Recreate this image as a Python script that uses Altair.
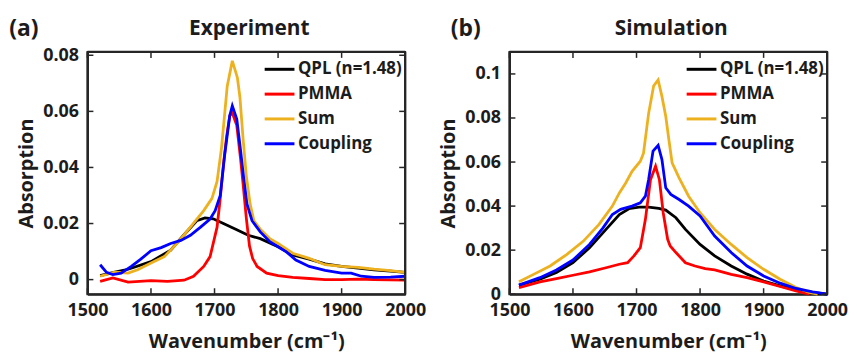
import altair as alt
import pandas as pd

FONT = "Open Sans"
TXT = "#1c1c1c"
FRAME = "#262626"
SERIES = ["QPL (n=1.48)", "PMMA", "Sum", "Coupling"]
COLORS = ["#000000", "#ff0000", "#edb120", "#0000ff"]
X_TICKS = [1500, 1600, 1700, 1800, 1900, 2000]
Y_TICKS_A = [0, 0.02, 0.04, 0.06, 0.08]
Y_TICKS_B = [0, 0.02, 0.04, 0.06, 0.08, 0.1]

# ---- (a) Experiment ----
QPL_A_X = [1520, 1543, 1564, 1600, 1631, 1652, 1672, 1685, 1698, 1714, 1735, 1753, 1772, 1800, 1823, 1849, 1874, 1900, 1926, 1951, 1977, 2000]
QPL_A_Y = [0.0014, 0.0027, 0.0037, 0.0064, 0.0105, 0.016, 0.021, 0.022, 0.0217, 0.020, 0.0178, 0.0158, 0.0146, 0.0117, 0.0088, 0.0073, 0.0056, 0.0047, 0.0041, 0.0035, 0.003, 0.0026]

PMMA_A_X = [1520, 1540, 1564, 1600, 1626, 1652, 1667, 1683, 1693, 1704, 1709, 1714, 1719, 1724, 1728, 1735, 1741, 1745, 1750, 1755, 1760, 1767, 1782, 1800, 1823, 1849, 1874, 1900, 1926, 1951, 2000]
PMMA_A_Y = [-0.0006, 0.0006, -0.0009, -0.0004, -0.0006, -0.0002, 0.0012, 0.0047, 0.0082, 0.0187, 0.029, 0.041, 0.051, 0.0585, 0.0594, 0.055, 0.043, 0.034, 0.022, 0.012, 0.0075, 0.0047, 0.0023, 0.0014, 0.0008, 0.0004, 0.0, 0.0, 0.0002, 0.0, -0.0002]

SUM_A_X = [1520, 1543, 1564, 1579, 1600, 1621, 1641, 1662, 1683, 1696, 1704, 1711, 1720, 1728, 1736, 1740, 1745, 1750, 1756, 1762, 1772, 1787, 1800, 1823, 1849, 1874, 1900, 1926, 1951, 1977, 2000]
SUM_A_Y = [0.0012, 0.0027, 0.0023, 0.0035, 0.0059, 0.0082, 0.0129, 0.0187, 0.0246, 0.029, 0.035, 0.047, 0.069, 0.078, 0.072, 0.065, 0.05, 0.037, 0.027, 0.021, 0.018, 0.0146, 0.0129, 0.0094, 0.0076, 0.0053, 0.0047, 0.0044, 0.0037, 0.0032, 0.0026]

COUP_A_X = [1520, 1530, 1540, 1553, 1569, 1584, 1600, 1616, 1631, 1647, 1662, 1678, 1693, 1701, 1709, 1716, 1724, 1728, 1735, 1741, 1746, 1751, 1759, 1772, 1787, 1800, 1813, 1828, 1849, 1874, 1900, 1915, 1931, 1951, 1977, 2000]
COUP_A_Y = [0.0053, 0.0026, 0.0018, 0.0023, 0.0047, 0.0073, 0.0103, 0.0114, 0.0129, 0.014, 0.0158, 0.0187, 0.0216, 0.0246, 0.030, 0.0445, 0.0585, 0.062, 0.0573, 0.046, 0.036, 0.027, 0.021, 0.017, 0.0135, 0.0117, 0.0099, 0.007, 0.0047, 0.0033, 0.0023, 0.0023, 0.0012, 0.0008, 0.0009, 0.0012]

# ---- (b) Simulation ----
QPL_B_X = [1515, 1548, 1574, 1600, 1626, 1652, 1673, 1688, 1704, 1719, 1735, 1746, 1762, 1777, 1800, 1823, 1849, 1874, 1900, 1926, 1951, 1977, 2000]
QPL_B_Y = [0.0041, 0.0068, 0.0098, 0.0143, 0.0211, 0.0294, 0.0362, 0.0388, 0.0395, 0.0395, 0.039, 0.0382, 0.0347, 0.0294, 0.0226, 0.0174, 0.0128, 0.0091, 0.006, 0.0038, 0.002, 0.0008, 0.0]

PMMA_B_X = [1515, 1548, 1574, 1600, 1626, 1652, 1673, 1686, 1696, 1706, 1714, 1722, 1730, 1736, 1742, 1749, 1753, 1762, 1777, 1792, 1808, 1823, 1849, 1874, 1900, 1926, 1951, 1972]
PMMA_B_Y = [0.003, 0.0056, 0.0071, 0.0086, 0.0101, 0.012, 0.0136, 0.0143, 0.0174, 0.0211, 0.034, 0.052, 0.0581, 0.052, 0.037, 0.0249, 0.0219, 0.0189, 0.0143, 0.0128, 0.0116, 0.011, 0.009, 0.0075, 0.0056, 0.0035, 0.0015, 0.0]

SUM_B_X = [1515, 1538, 1564, 1590, 1616, 1641, 1662, 1673, 1683, 1693, 1706, 1711, 1719, 1727, 1734, 1740, 1746, 1751, 1756, 1767, 1782, 1800, 1823, 1849, 1874, 1900, 1926, 1951, 1972, 1985]
SUM_B_Y = [0.0056, 0.009, 0.0128, 0.018, 0.024, 0.0317, 0.04, 0.046, 0.0505, 0.0558, 0.0604, 0.064, 0.082, 0.0946, 0.0973, 0.0898, 0.0808, 0.070, 0.0596, 0.0528, 0.0445, 0.037, 0.0294, 0.0226, 0.0166, 0.0113, 0.0068, 0.003, 0.0008, 0.0]

COUP_B_X = [1515, 1548, 1574, 1600, 1626, 1647, 1662, 1675, 1693, 1706, 1714, 1719, 1726, 1734, 1740, 1746, 1754, 1767, 1782, 1800, 1823, 1849, 1874, 1900, 1926, 1951, 1977, 2000]
COUP_B_Y = [0.0041, 0.0075, 0.011, 0.0155, 0.0226, 0.030, 0.0362, 0.0385, 0.040, 0.0415, 0.0445, 0.052, 0.065, 0.0676, 0.0611, 0.0483, 0.0453, 0.043, 0.040, 0.0355, 0.0264, 0.0189, 0.0128, 0.0083, 0.005, 0.0026, 0.0011, 0.0]

W, H = 320, 244


def long_df(items):
    rows = []
    for name, xs, ys in items:
        for x, y in zip(xs, ys):
            rows.append({"series": name, "wn": x, "val": y})
    return pd.DataFrame(rows)


def panel(df, yticks, ydom, title, tag, tag_dx):
    xs = alt.Scale(domain=[1500, 2000], nice=False, zero=False)
    ys = alt.Scale(domain=ydom, nice=False, zero=False)
    xax = alt.Axis(values=X_TICKS, title="Wavenumber (cm⁻¹)", ticks=False, domain=True,
                   domainColor=FRAME, domainWidth=2.2, domainOpacity=1,
                   grid=False, labelPadding=7, titlePadding=13, format="d",
                   labelFlush=False, labelOverlap=False)
    yax = alt.Axis(values=yticks, title="Absorption", format="~g", ticks=False, domain=True,
                   domainColor=FRAME, domainWidth=2.2, domainOpacity=1,
                   grid=False, labelPadding=9, titlePadding=6, labelFlush=False, labelOverlap=False)
    lines = alt.Chart(df).mark_line(strokeWidth=2.8).encode(
        x=alt.X("wn:Q", scale=xs, axis=xax),
        y=alt.Y("val:Q", scale=ys, axis=yax),
        color=alt.Color("series:N", scale=alt.Scale(domain=SERIES, range=COLORS),
                        legend=alt.Legend(orient="none", legendX=177, legendY=1, title=None,
                                          symbolType="stroke", symbolStrokeWidth=3, symbolSize=900,
                                          labelFont=FONT, labelFontSize=17, labelFontWeight="bold",
                                          labelColor=TXT, labelOffset=2, rowPadding=-11, padding=0)),
    )
    xt = pd.DataFrame({"wn": X_TICKS})
    yt = pd.DataFrame({"val": yticks})
    tick_style = dict(color=FRAME, strokeWidth=1.5)
    tx_top = alt.Chart(xt).mark_rule(**tick_style).encode(
        x=alt.X("wn:Q", scale=xs, axis=xax), y=alt.value(0), y2=alt.value(6))
    tx_bot = alt.Chart(xt).mark_rule(**tick_style).encode(
        x=alt.X("wn:Q", scale=xs, axis=xax), y=alt.value(H - 6), y2=alt.value(H))
    ty_left = alt.Chart(yt).mark_rule(**tick_style).encode(
        y=alt.Y("val:Q", scale=ys, axis=yax), x=alt.value(0), x2=alt.value(6))
    ty_right = alt.Chart(yt).mark_rule(**tick_style).encode(
        y=alt.Y("val:Q", scale=ys, axis=yax), x=alt.value(W - 6), x2=alt.value(W))
    one = pd.DataFrame({"a": [0]})
    fr = dict(color=FRAME, strokeWidth=2.2)
    f_top = alt.Chart(one).mark_rule(**fr).encode(x=alt.value(0), x2=alt.value(W), y=alt.value(0))
    f_right = alt.Chart(one).mark_rule(**fr).encode(y=alt.value(0), y2=alt.value(H), x=alt.value(W))
    tag_mark = alt.Chart(one).mark_text(text=tag, font=FONT, fontSize=23, fontWeight="bold",
                                        align="center", baseline="alphabetic", color=TXT).encode(
        x=alt.value(tag_dx), y=alt.value(-16))
    title_mark = alt.Chart(one).mark_text(text=title, font=FONT, fontSize=21, fontWeight="bold",
                                          align="center", baseline="alphabetic", color=TXT).encode(
        x=alt.value(W / 2 + 3), y=alt.value(-17))
    return alt.layer(lines, tx_top, tx_bot, ty_left, ty_right, f_top, f_right,
                     tag_mark, title_mark).properties(width=W, height=H)


df_a = long_df([(SERIES[0], QPL_A_X, QPL_A_Y), (SERIES[1], PMMA_A_X, PMMA_A_Y),
                (SERIES[2], SUM_A_X, SUM_A_Y), (SERIES[3], COUP_A_X, COUP_A_Y)])
df_b = long_df([(SERIES[0], QPL_B_X, QPL_B_Y), (SERIES[1], PMMA_B_X, PMMA_B_Y),
                (SERIES[2], SUM_B_X, SUM_B_Y), (SERIES[3], COUP_B_X, COUP_B_Y)])

pa = panel(df_a, Y_TICKS_A, [-0.0052, 0.0812], "Experiment", "(a)", -64)
pb = panel(df_b, Y_TICKS_B, [0, 0.11], "Simulation", "(b)", -44)

chart = (
    alt.hconcat(pa, pb, spacing=10)
    .resolve_legend(color="independent")
    .properties(padding={"left": 0, "top": 8, "right": 0, "bottom": 0})
    .configure_view(stroke=FRAME, strokeWidth=2)
    .configure_axis(labelFont=FONT, labelFontSize=18, labelFontWeight="bold", labelColor=TXT,
                    titleFont=FONT, titleFontSize=20, titleFontWeight="bold", titleColor=TXT)
)

chart.save("out.html", embed_options={"renderer": "svg", "actions": False})
